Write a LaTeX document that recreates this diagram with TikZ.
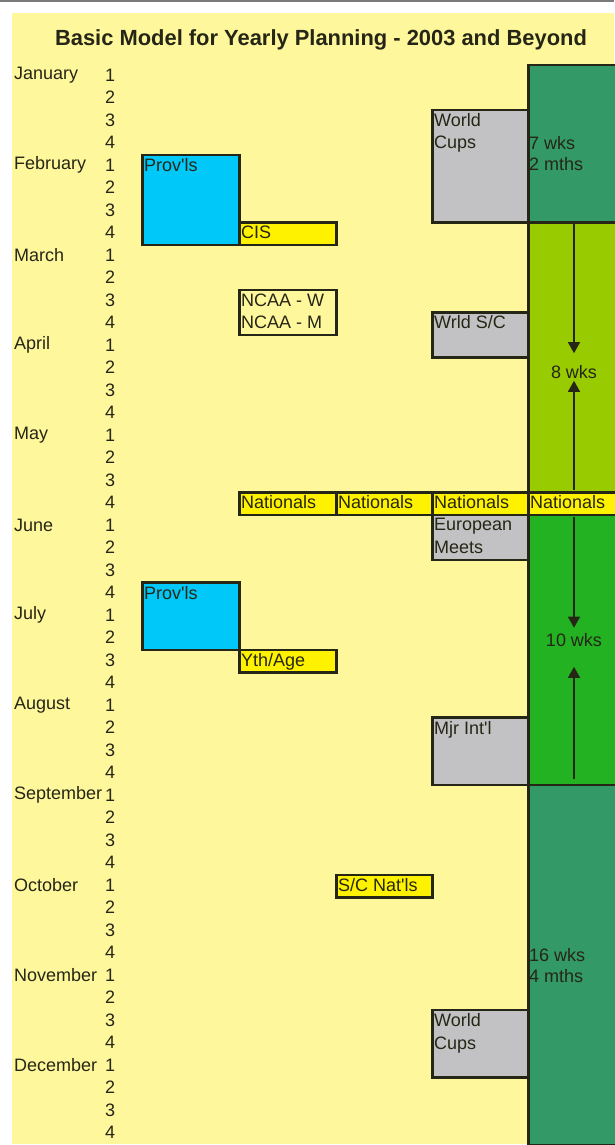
\documentclass[tikz,border=0pt]{standalone}
\usepackage{fontspec}
\setmainfont{Liberation Sans}
\usepackage{tikz}
\usetikzlibrary{arrows.meta,positioning,calc}
\definecolor{paper}{HTML}{FFF79C}
\definecolor{provBlue}{HTML}{00C8F8}
\definecolor{meetYellow}{HTML}{FFF200}
\definecolor{meetGray}{HTML}{C2C2C4}
\definecolor{prepGreen}{HTML}{339966}
\definecolor{limeGreen}{HTML}{99CC00}
\definecolor{compGreen}{HTML}{22B222}
\definecolor{ink}{HTML}{262616}
\definecolor{frame}{HTML}{7A7A7A}
\newcommand{\tick}{\textquotesingle}

\begin{document}
\begin{tikzpicture}[x=1pt,y=-1pt,
    box/.style={draw=ink,line width=2.6pt,minimum height=22.5pt,anchor=north west,inner sep=0pt},
    lbl/.style={anchor=north west,inner xsep=3pt,inner ysep=4.5pt,align=left,text=ink,font=\fontsize{18}{22.5}\selectfont},
    wk/.style={anchor=west,inner xsep=2pt,inner ysep=0pt,align=left,text=ink,font=\fontsize{18}{21}\selectfont},
    wkc/.style={inner sep=2pt,text=ink,font=\fontsize{18}{21}\selectfont},
    month/.style={anchor=west,inner sep=0pt,text=ink,font=\fontsize{18}{21}\selectfont},
    span/.style={draw=ink,line width=1.3pt,-{Triangle[width=12pt,length=11pt]}}]
    \useasboundingbox (0,0) rectangle (614,1145);
    \fill[white] (0,0) rectangle (614,1145);
    \fill[frame] (0,0) rectangle (614,2);
    \fill[paper] (12,13) rectangle (614,1143.75);

    \node[font=\fontsize{21.9}{26}\selectfont\bfseries,text=ink] (title) at (321,40) {Basic Model for Yearly Planning - 2003 and Beyond};

    % months and weeks
    \foreach \m [count=\i from 0] in {January,February,March,April,May,June,July,August,September,October,November,December} {
      \node[month] (m\i) at (14,{75+90*\i}) {\m};
      \foreach \w in {1,...,4}
        \node[month] (w\i-\w) at (105,{75+90*\i+22.5*(\w-1)}) {\w};
    }

    % training phases
    \node[box,fill=prepGreen,minimum width=100pt,minimum height=157.5pt] (prepA) at (527,63.75) {};
    \node[box,fill=limeGreen,minimum width=100pt,minimum height=270pt] (lime) at (527,221.25) {};
    \node[box,fill=compGreen,minimum width=100pt,minimum height=270pt] (bright) at (527,513.75) {};
    \node[box,fill=prepGreen,minimum width=100pt,minimum height=360pt] (prepB) at (527,783.75) {};
    \node[wk] (prepAT) at (527,154) {7 wks\\2 mths};
    \node[wk] (prepBT) at (527,966) {16 wks\\4 mths};

    % competitions
    \node[box,fill=provBlue,minimum width=97pt,minimum height=90pt] (provFeb) at (141,153.75) {};
    \node[box,fill=meetYellow,minimum width=97pt] (cis) at (238,221.25) {};
    \node[box,fill=paper,minimum width=97pt,minimum height=45pt] (ncaa) at (238,288.75) {};
    \node[box,fill=meetGray,minimum width=96pt,minimum height=112.5pt] (wcJan) at (431,108.75) {};
    \node[box,fill=meetGray,minimum width=96pt,minimum height=45pt] (wrldSC) at (431,311.25) {};
    \node[box,fill=meetYellow,minimum width=97pt] (natA) at (238,491.25) {};
    \node[box,fill=meetYellow,minimum width=96pt] (natB) at (335,491.25) {};
    \node[box,fill=meetYellow,minimum width=96pt] (natC) at (431,491.25) {};
    \node[box,fill=meetYellow,minimum width=100pt] (natD) at (527,491.25) {};
    \node[box,fill=meetGray,minimum width=96pt,minimum height=45pt] (euro) at (431,513.75) {};
    \node[box,fill=provBlue,minimum width=97pt,minimum height=67.5pt] (provJul) at (141,581.25) {};
    \node[box,fill=meetYellow,minimum width=97pt] (yth) at (238,648.75) {};
    \node[box,fill=meetGray,minimum width=96pt,minimum height=67.5pt] (mjr) at (431,716.25) {};
    \node[box,fill=meetYellow,minimum width=96pt] (scNat) at (335,873.75) {};
    \node[box,fill=meetGray,minimum width=96pt,minimum height=67.5pt] (wcDec) at (431,1008.75) {};

    \node[lbl] (provFebT) at (provFeb.north west) {Prov\tick ls};
    \node[lbl] (cisT) at (cis.north west) {CIS};
    \node[lbl] (ncaaT) at (ncaa.north west) {NCAA - W\\NCAA - M};
    \node[lbl] (wcJanT) at (wcJan.north west) {World\\Cups};
    \node[lbl] (wrldSCT) at (wrldSC.north west) {Wrld S/C};
    \node[lbl] (natAT) at (natA.north west) {Nationals};
    \node[lbl] (natBT) at (natB.north west) {Nationals};
    \node[lbl] (natCT) at (natC.north west) {Nationals};
    \node[lbl] (natDT) at (natD.north west) {Nationals};
    \node[lbl] (euroT) at (euro.north west) {European\\Meets};
    \node[lbl] (provJulT) at (provJul.north west) {Prov\tick ls};
    \node[lbl] (ythT) at (yth.north west) {Yth/Age};
    \node[lbl] (mjrT) at (mjr.north west) {Mjr Int\tick l};
    \node[lbl] (scNatT) at (scNat.north west) {S/C Nat\tick ls};
    \node[lbl] (wcDecT) at (wcDec.north west) {World\\Cups};

    % phase lengths
    \node[wkc] (eight) at (574,372) {8 wks};
    \draw[span,shorten >=10pt] (lime.north -| eight) -- (eight.north);
    \draw[span,shorten <=4pt] (lime.south -| eight) -- (eight.south);
    \node[wkc] (ten) at (574,640) {10 wks};
    \draw[span,shorten <=3pt,shorten >=3.5pt] (bright.north -| ten) -- (ten.north);
    \draw[span,shorten <=7pt,shorten >=18pt] (bright.south -| ten) -- (ten.south);
  \end{tikzpicture}
\end{document}
